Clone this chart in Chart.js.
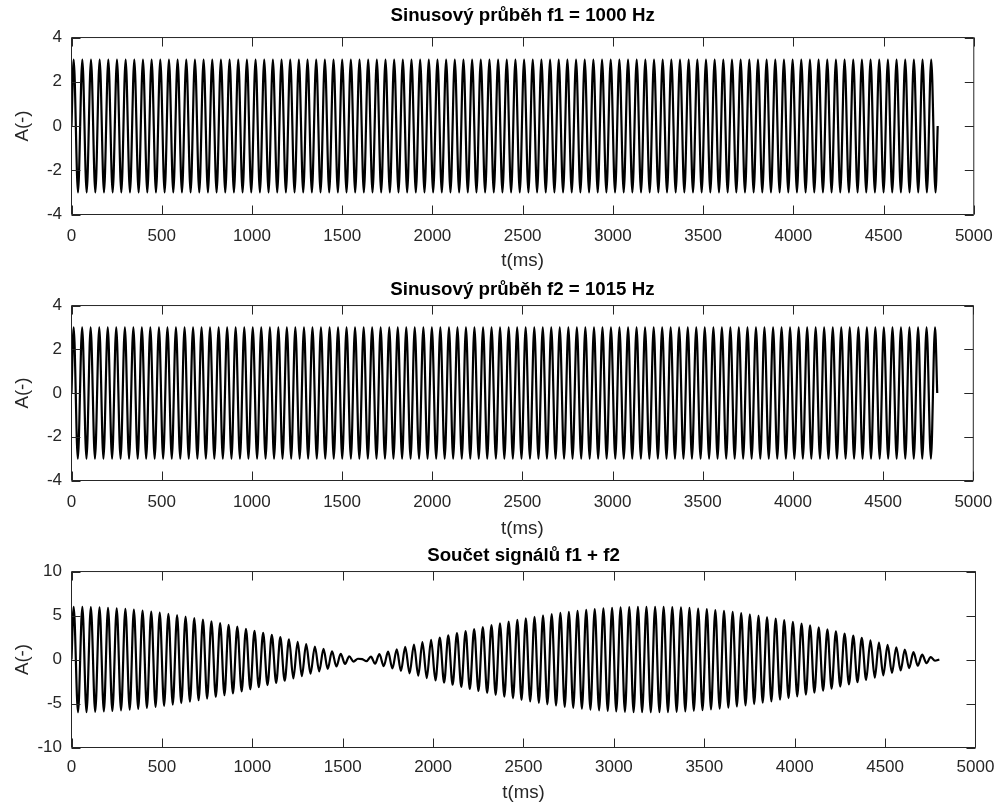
<!DOCTYPE html>
<html>
<head>
<meta charset="utf-8">
<script src="https://cdn.jsdelivr.net/npm/chart.js@4.4.1/dist/chart.umd.min.js"></script>
<style>
  html, body { margin: 0; padding: 0; background: #fff; overflow: hidden; }
  #fig { position: relative; width: 1004px; height: 804px; }
  #fig canvas { position: absolute; left: 0; }
</style>
</head>
<body>
<div id="fig">
  <canvas id="p1" width="1004" height="285" style="top:0px"></canvas>
  <canvas id="p2" width="1004" height="285" style="top:265px"></canvas>
  <canvas id="p3" width="1004" height="280" style="top:530px"></canvas>
</div>
<script>
// ---- signal data: sample index of each turning point and its amplitude ----

const panelTitles = ['Sinusový průběh f1 = 1000 Hz', 'Sinusový průběh f2 = 1015 Hz', 'Součet signálů f1 + f2'];
const xLabel = 't(ms)';
const yLabel = 'A(-)';

const xTicks = [0, 500, 1000, 1500, 2000, 2500, 3000, 3500, 4000, 4500, 5000];
const yTicksSingle = [-4, -2, 0, 2, 4];
const yTicksSum = [-10, -5, 0, 5, 10];

// f1 = 1000 Hz
const f1Times = [0,
  12,36,60,84,108,132,156,180,204,228,
  252,276,300,324,348,372,396,420,444,468,
  492,516,540,564,588,612,636,660,684,708,
  732,756,780,804,828,852,876,900,924,948,
  972,996,1020,1044,1068,1092,1116,1140,1164,1188,
  1212,1236,1260,1284,1308,1332,1356,1380,1404,1428,
  1452,1476,1500,1524,1548,1572,1596,1620,1644,1668,
  1692,1716,1740,1764,1788,1812,1836,1860,1884,1908,
  1932,1956,1980,2004,2028,2052,2076,2100,2124,2148,
  2172,2196,2220,2244,2268,2292,2316,2340,2364,2388,
  2412,2436,2460,2484,2508,2532,2556,2580,2604,2628,
  2652,2676,2700,2724,2748,2772,2796,2820,2844,2868,
  2892,2916,2940,2964,2988,3012,3036,3060,3084,3108,
  3132,3156,3180,3204,3228,3252,3276,3300,3324,3348,
  3372,3396,3420,3444,3468,3492,3516,3540,3564,3588,
  3612,3636,3660,3684,3708,3732,3756,3780,3804,3828,
  3852,3876,3900,3924,3948,3972,3996,4020,4044,4068,
  4092,4116,4140,4164,4188,4212,4236,4260,4284,4308,
  4332,4356,4380,4404,4428,4452,4476,4500,4524,4548,
  4572,4596,4620,4644,4668,4692,4716,4740,4764,4788,
  4800];
const f1Values = [0,
  3,-3,3,-3,3,-3,3,-3,3,-3,
  3,-3,3,-3,3,-3,3,-3,3,-3,
  3,-3,3,-3,3,-3,3,-3,3,-3,
  3,-3,3,-3,3,-3,3,-3,3,-3,
  3,-3,3,-3,3,-3,3,-3,3,-3,
  3,-3,3,-3,3,-3,3,-3,3,-3,
  3,-3,3,-3,3,-3,3,-3,3,-3,
  3,-3,3,-3,3,-3,3,-3,3,-3,
  3,-3,3,-3,3,-3,3,-3,3,-3,
  3,-3,3,-3,3,-3,3,-3,3,-3,
  3,-3,3,-3,3,-3,3,-3,3,-3,
  3,-3,3,-3,3,-3,3,-3,3,-3,
  3,-3,3,-3,3,-3,3,-3,3,-3,
  3,-3,3,-3,3,-3,3,-3,3,-3,
  3,-3,3,-3,3,-3,3,-3,3,-3,
  3,-3,3,-3,3,-3,3,-3,3,-3,
  3,-3,3,-3,3,-3,3,-3,3,-3,
  3,-3,3,-3,3,-3,3,-3,3,-3,
  3,-3,3,-3,3,-3,3,-3,3,-3,
  3,-3,3,-3,3,-3,3,-3,3,-3,
  0];

// f2 = 1015 Hz
const f2Times = [0,
  12,35,59,83,106,130,154,177,201,225,
  248,272,296,319,343,367,390,414,437,461,
  485,508,532,556,579,603,627,650,674,698,
  721,745,768,792,816,839,863,887,910,934,
  958,981,1005,1029,1052,1076,1100,1123,1147,1170,
  1194,1218,1241,1265,1289,1312,1336,1360,1383,1407,
  1431,1454,1478,1501,1525,1549,1572,1596,1620,1643,
  1667,1691,1714,1738,1762,1785,1809,1833,1856,1880,
  1903,1927,1951,1974,1998,2022,2045,2069,2093,2116,
  2140,2164,2187,2211,2234,2258,2282,2305,2329,2353,
  2376,2400,2424,2447,2471,2495,2518,2542,2566,2589,
  2613,2636,2660,2684,2707,2731,2755,2778,2802,2826,
  2849,2873,2897,2920,2944,2967,2991,3015,3038,3062,
  3086,3109,3133,3157,3180,3204,3228,3251,3275,3299,
  3322,3346,3369,3393,3417,3440,3464,3488,3511,3535,
  3559,3582,3606,3630,3653,3677,3700,3724,3748,3771,
  3795,3819,3842,3866,3890,3913,3937,3961,3984,4008,
  4032,4055,4079,4102,4126,4150,4173,4197,4221,4244,
  4268,4292,4315,4339,4363,4386,4410,4433,4457,4481,
  4504,4528,4552,4575,4599,4623,4646,4670,4694,4717,
  4741,4765,4788,
  4800];
const f2Values = [0,
  3,-3,3,-3,3,-3,3,-3,3,-3,
  3,-3,3,-3,3,-3,3,-3,3,-3,
  3,-3,3,-3,3,-3,3,-3,3,-3,
  3,-3,3,-3,3,-3,3,-3,3,-3,
  3,-3,3,-3,3,-3,3,-3,3,-3,
  3,-3,3,-3,3,-3,3,-3,3,-3,
  3,-3,3,-3,3,-3,3,-3,3,-3,
  3,-3,3,-3,3,-3,3,-3,3,-3,
  3,-3,3,-3,3,-3,3,-3,3,-3,
  3,-3,3,-3,3,-3,3,-3,3,-3,
  3,-3,3,-3,3,-3,3,-3,3,-3,
  3,-3,3,-3,3,-3,3,-3,3,-3,
  3,-3,3,-3,3,-3,3,-3,3,-3,
  3,-3,3,-3,3,-3,3,-3,3,-3,
  3,-3,3,-3,3,-3,3,-3,3,-3,
  3,-3,3,-3,3,-3,3,-3,3,-3,
  3,-3,3,-3,3,-3,3,-3,3,-3,
  3,-3,3,-3,3,-3,3,-3,3,-3,
  3,-3,3,-3,3,-3,3,-3,3,-3,
  3,-3,3,-3,3,-3,3,-3,3,-3,
  3,-3,3,
  0];

// f1 + f2 (beating)
const sumTimes = [0,
  12,36,60,83,107,131,155,179,202,226,
  250,274,298,322,345,369,393,417,441,465,
  488,512,536,560,584,607,631,655,679,703,
  727,750,774,798,822,846,869,893,917,941,
  965,989,1012,1036,1060,1084,1108,1132,1155,1179,
  1203,1227,1251,1274,1298,1322,1346,1370,1394,1417,
  1441,1465,1489,1513,1536,1560,1584,1608,1632,1656,
  1679,1703,1727,1751,1775,1799,1822,1846,1870,1894,
  1918,1941,1965,1989,2013,2037,2061,2084,2108,2132,
  2156,2180,2203,2227,2251,2275,2299,2323,2346,2370,
  2394,2418,2442,2466,2489,2513,2537,2561,2585,2608,
  2632,2656,2680,2704,2728,2751,2775,2799,2823,2847,
  2870,2894,2918,2942,2966,2990,3013,3037,3061,3085,
  3109,3133,3156,3180,3204,3228,3252,3275,3299,3323,
  3347,3371,3395,3418,3442,3466,3490,3514,3537,3561,
  3585,3609,3633,3657,3680,3704,3728,3752,3776,3800,
  3823,3847,3871,3895,3919,3942,3966,3990,4014,4038,
  4062,4085,4109,4133,4157,4181,4204,4228,4252,4276,
  4300,4324,4347,4371,4395,4419,4443,4466,4490,4514,
  4538,4562,4586,4609,4633,4657,4681,4705,4729,4752,
  4776,
  4800];
const sumValues = [0,
  6.00,-6.00,5.99,-5.98,5.97,-5.95,5.93,-5.91,5.88,-5.85,
  5.82,-5.78,5.75,-5.70,5.66,-5.61,5.56,-5.50,5.45,-5.39,
  5.32,-5.26,5.19,-5.12,5.04,-4.97,4.88,-4.80,4.72,-4.63,
  4.54,-4.44,4.35,-4.25,4.15,-4.05,3.94,-3.84,3.73,-3.62,
  3.50,-3.39,3.27,-3.15,3.03,-2.91,2.79,-2.66,2.54,-2.41,
  2.28,-2.15,2.02,-1.89,1.75,-1.62,1.48,-1.34,1.21,-1.07,
  0.93,-0.79,0.65,-0.51,0.37,-0.23,0.09,0.05,-0.19,0.33,
  -0.47,0.61,-0.75,0.89,-1.02,1.16,-1.30,1.44,-1.57,1.71,
  -1.84,1.97,-2.11,2.24,-2.37,2.49,-2.62,2.75,-2.87,2.99,
  -3.11,3.23,-3.35,3.47,-3.58,3.69,-3.80,3.91,-4.01,4.12,
  -4.22,4.32,-4.41,4.51,-4.60,4.69,-4.77,4.86,-4.94,5.02,
  -5.09,5.17,-5.23,5.30,-5.37,5.43,-5.49,5.54,-5.59,5.64,
  -5.69,5.73,-5.77,5.81,-5.84,5.87,-5.90,5.92,-5.94,5.96,
  -5.98,5.99,-5.99,6.00,-6.00,6.00,-5.99,5.98,-5.97,5.96,
  -5.94,5.92,-5.89,5.86,-5.83,5.80,-5.76,5.72,-5.67,5.63,
  -5.58,5.52,-5.47,5.41,-5.34,5.28,-5.21,5.14,-5.07,4.99,
  -4.91,4.83,-4.75,4.66,-4.57,4.48,-4.38,4.28,-4.18,4.08,
  -3.98,3.87,-3.77,3.65,-3.54,3.43,-3.31,3.19,-3.07,2.95,
  -2.83,2.71,-2.58,2.45,-2.32,2.19,-2.06,1.93,-1.80,1.66,
  -1.53,1.39,-1.25,1.12,-0.98,0.84,-0.70,0.56,-0.42,0.28,
  -0.14,
  0];

// ---- styling ----
const FONT = '"Liberation Sans", Arial, Helvetica, sans-serif';
const AXIS_COLOR = '#262626';
const TICK_LEN = 9;
const TICK_SIZE = 17;
const LABEL_SIZE = 18.7;

// per-panel spacing (px) inside each canvas
const panels = [
  { id: 'p1', title: panelTitles[0], times: f1Times, values: f1Values, yMin: -4, yMax: 4, yTicks: yTicksSingle,
    titlePad: { top: 4.8, bottom: 10.3 }, xAxisHeight: 70.5, xTickPad: 11.3, xTitlePad: 12.8 },
  { id: 'p2', title: panelTitles[1], times: f2Times, values: f2Values, yMin: -4, yMax: 4, yTicks: yTicksSingle,
    titlePad: { top: 13.8, bottom: 4.3 }, xAxisHeight: 69.5, xTickPad: 11.8, xTitlePad: 9.8 },
  { id: 'p3', title: panelTitles[2], times: sumTimes, values: sumValues, yMin: -10, yMax: 10, yTicks: yTicksSum,
    titlePad: { top: 14.8, bottom: 4.3 }, xAxisHeight: 62.5, xTickPad: 9.6, xTitlePad: 5.5 }
];

// box around the plot area with inward ticks on all four sides
const framePlugin = {
  id: 'frame',
  afterDatasetsDraw(chart) {
    const { ctx, chartArea: a, scales: { x, y } } = chart;
    ctx.save();
    ctx.strokeStyle = AXIS_COLOR;
    ctx.lineWidth = 1;
    ctx.beginPath();
    ctx.rect(a.left, a.top, a.right - a.left, a.bottom - a.top);
    x.ticks.forEach(t => {
      const px = Math.round(x.getPixelForValue(t.value)) + 0.5;
      ctx.moveTo(px, a.bottom); ctx.lineTo(px, a.bottom - TICK_LEN);
      ctx.moveTo(px, a.top); ctx.lineTo(px, a.top + TICK_LEN);
    });
    y.ticks.forEach(t => {
      const py = Math.round(y.getPixelForValue(t.value)) + 0.5;
      ctx.moveTo(a.left, py); ctx.lineTo(a.left + TICK_LEN, py);
      ctx.moveTo(a.right, py); ctx.lineTo(a.right - TICK_LEN, py);
    });
    ctx.stroke();
    ctx.restore();
  }
};

panels.forEach(p => {
  const n = Math.min(p.times.length, p.values.length);
  const points = [];
  for (let i = 0; i < n; i++) points.push({ x: p.times[i], y: p.values[i] });

  new Chart(document.getElementById(p.id), {
    type: 'line',
    data: {
      datasets: [{
        data: points,
        borderColor: '#000000',
        borderWidth: 2.2,
        pointRadius: 0,
        cubicInterpolationMode: 'monotone',
        fill: false
      }]
    },
    options: {
      responsive: false,
      devicePixelRatio: 1,
      animation: false,
      events: [],
      layout: { padding: { left: 0, right: 25.5, top: 0, bottom: 0 } },
      plugins: {
        legend: { display: false },
        tooltip: { enabled: false },
        title: {
          display: true,
          text: p.title,
          fullSize: false,
          color: '#000000',
          font: { family: FONT, size: LABEL_SIZE, weight: 'bold', lineHeight: 1.2 },
          padding: p.titlePad
        }
      },
      scales: {
        x: {
          type: 'linear',
          min: 0,
          max: 5000,
          afterBuildTicks: s => { s.ticks = xTicks.map(v => ({ value: v })); },
          afterFit: s => { s.height = p.xAxisHeight; },
          grid: { display: false, drawTicks: false },
          border: { display: false },
          ticks: {
            autoSkip: false, maxRotation: 0, padding: p.xTickPad, color: AXIS_COLOR,
            font: { family: FONT, size: TICK_SIZE, lineHeight: 1.2 },
            callback: v => String(v)
          },
          title: {
            display: true, text: xLabel, color: AXIS_COLOR,
            font: { family: FONT, size: LABEL_SIZE, lineHeight: 1.2 },
            padding: { top: 0, bottom: p.xTitlePad }
          }
        },
        y: {
          type: 'linear',
          min: p.yMin,
          max: p.yMax,
          afterBuildTicks: s => { s.ticks = p.yTicks.map(v => ({ value: v })); },
          afterFit: s => { s.width = 71.5; },
          grid: { display: false, drawTicks: false },
          border: { display: false },
          ticks: {
            padding: 9.5, color: AXIS_COLOR,
            font: { family: FONT, size: TICK_SIZE, lineHeight: 1.2 },
            callback: v => String(v)
          },
          title: {
            display: true, text: yLabel, color: AXIS_COLOR,
            font: { family: FONT, size: LABEL_SIZE, lineHeight: 1.2 },
            padding: { top: 11.3, bottom: 0 }
          }
        }
      }
    },
    plugins: [framePlugin]
  });
});
</script>
</body>
</html>
